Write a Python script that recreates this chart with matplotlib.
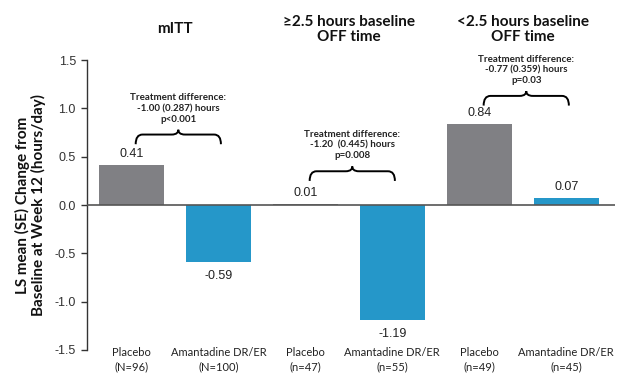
import matplotlib.pyplot as plt
from matplotlib.path import Path
from matplotlib.patches import PathPatch

categories = ["Placebo\n(N=96)", "Amantadine DR/ER\n(N=100)",
              "Placebo\n(n=47)", "Amantadine DR/ER\n(n=55)",
              "Placebo\n(n=49)", "Amantadine DR/ER\n(n=45)"]
values = [0.41, -0.59, 0.01, -1.19, 0.84, 0.07]
value_labels = ["0.41", "-0.59", "0.01", "-1.19", "0.84", "0.07"]
group_titles = ["mITT", "\u22652.5 hours baseline\nOFF time", "<2.5 hours baseline\nOFF time"]
diff_texts = ["Treatment difference:\n-1.00 (0.287) hours\np<0.001",
              "Treatment difference:\n-1.20  (0.445) hours\np=0.008",
              "Treatment difference:\n-0.77 (0.359) hours\np=0.03"]
brace_levels = [0.73, 0.35, 1.13]
yticks = [-1.5, -1.0, -0.5, 0.0, 0.5, 1.0, 1.5]

GREY = "#808084"
BLUE = "#2597c9"
LABEL_FONT = ["Lato", "DejaVu Sans"]
NUM_FONT = ["Liberation Sans", "DejaVu Sans"]


def brace(axis, x1, x2, y, drop, peak):
    xm = (x1 + x2) / 2
    r = (x2 - x1) * 0.08
    verts = [
        (x1, y - drop), (x1, y), (x1 + r, y),
        (xm - r, y),
        (xm - r * 0.2, y), (xm, y + peak * 0.5), (xm, y + peak),
        (xm, y + peak * 0.5), (xm + r * 0.2, y), (xm + r, y),
        (x2 - r, y),
        (x2, y), (x2, y - drop),
    ]
    codes = [Path.MOVETO, Path.CURVE3, Path.CURVE3, Path.LINETO,
             Path.CURVE4, Path.CURVE4, Path.CURVE4,
             Path.CURVE4, Path.CURVE4, Path.CURVE4,
             Path.LINETO, Path.CURVE3, Path.CURVE3]
    axis.add_patch(PathPatch(Path(verts, codes), facecolor="none", edgecolor="black",
                             linewidth=1.4, clip_on=False, zorder=4))


fig = plt.figure(figsize=(6.19, 3.73), dpi=100)
ax = fig.add_axes([0.1405, 0.0617, 0.853, 0.777])

x = list(range(len(values)))
colors = [GREY if i % 2 == 0 else BLUE for i in x]
ax.bar(x, values, width=0.75, color=colors, zorder=2)
ax.axhline(0, color="#555555", linewidth=1.2, zorder=3)

for i, (v, lab) in enumerate(zip(values, value_labels)):
    off = 8 if v >= 0 else -10
    ax.annotate(lab, (i, v), xytext=(0, off), textcoords="offset points",
                ha="center", va="center", fontsize=9, family=NUM_FONT, color="#222222")
    ax.text(i, -1.6, categories[i], ha="center", va="center", fontsize=8,
            family=LABEL_FONT, color="#222222", linespacing=1.3, clip_on=False)

for g in range(3):
    a = 2 * g
    x1, x2 = a + 0.05, a + 1.03
    y = brace_levels[g]
    brace(ax, x1, x2, y, 0.1, 0.05)
    ax.text((x1 + x2) / 2, y + 0.27, diff_texts[g], ha="center", va="center",
            fontsize=7, fontweight="bold", family=LABEL_FONT, color="#222222",
            linespacing=1.25)
    ax.text(a + 0.5, 1.107, group_titles[g], transform=ax.get_xaxis_transform(),
            ha="center", va="center", fontsize=11, fontweight="bold",
            family=LABEL_FONT, color="#111111", linespacing=1.1)

ax.set_xlim(-0.51, 5.56)
ax.set_ylim(-1.5, 1.5)
ax.set_yticks(yticks)
ax.set_yticklabels([f"{t:.1f}" for t in yticks], family=NUM_FONT, fontsize=9, color="#333333")
ax.set_xticks([])
ax.tick_params(axis="y", length=4, width=1, color="#333333", pad=4)
for side in ["top", "right", "bottom"]:
    ax.spines[side].set_visible(False)
ax.spines["left"].set_color("#333333")
ax.spines["left"].set_linewidth(1)

ax.set_ylabel("LS mean (SE) Change from\nBaseline at Week 12 (hours/day)", fontsize=11,
              fontweight="bold", family=LABEL_FONT, color="#111111", labelpad=6,
              linespacing=1.1)

fig.savefig("out.png", dpi=100)
